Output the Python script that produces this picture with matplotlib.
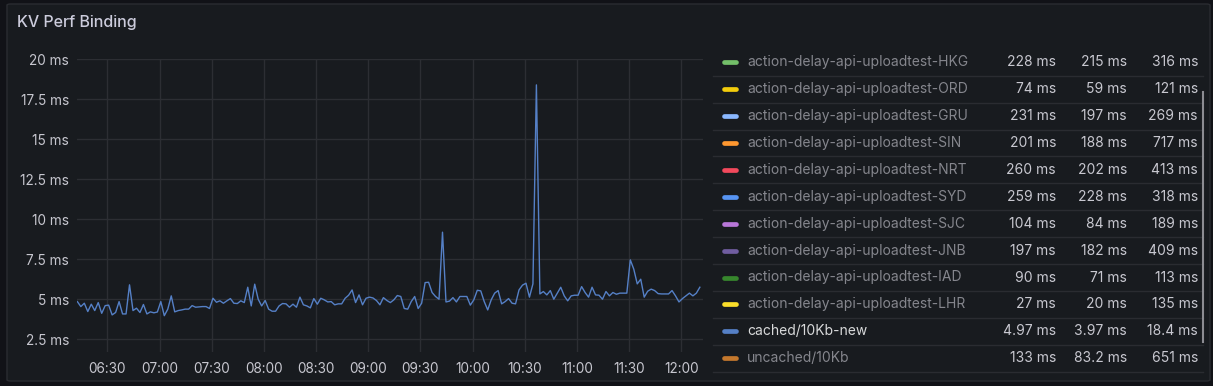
import matplotlib
matplotlib.use("Agg")
from matplotlib import pyplot as plt
from matplotlib.patches import FancyBboxPatch
from matplotlib.lines import Line2D
from matplotlib.ticker import FuncFormatter
import matplotlib.dates as mdates
import numpy as np
import pandas as pd

plt.rcParams['font.family'] = ['Inter', 'DejaVu Sans']

# cached/10Kb-new, one sample every 2 minutes (ms)
start_time = "2023-01-01 06:12:40"
sample_every = "2min"
cached_values = [
    4.85, 4.54, 4.75, 4.23, 4.69, 4.29, 4.79, 4.12, 4.60, 4.63,
    4.02, 4.17, 4.85, 4.08, 4.08, 5.90, 4.29, 4.44, 4.17, 4.67,
    4.08, 4.21, 4.15, 4.20, 4.85, 3.97, 4.38, 5.21, 4.21, 4.29,
    4.33, 4.38, 4.38, 4.60, 4.50, 4.52, 4.54, 4.54, 4.42, 5.06,
    4.81, 4.90, 4.75, 4.90, 5.04, 4.75,
    4.73, 4.90, 4.79, 5.75, 4.58, 5.94, 5.00, 4.58, 4.92, 4.38,
    4.25, 4.25, 4.58, 4.73, 4.71, 4.50, 4.69, 4.50, 5.13, 4.65,
    4.58, 4.46, 5.04, 4.69, 5.06, 4.96, 4.83, 4.85, 4.65, 4.71,
    4.71, 5.06, 5.25, 5.58, 4.79, 5.27, 4.65, 5.06, 5.13, 5.08,
    4.92, 4.65, 5.10, 4.92, 4.79,
    4.96, 5.23, 5.17, 4.42, 4.38, 4.85, 5.17, 4.42, 4.75, 6.04,
    6.06, 5.42, 5.17, 5.00, 9.19, 4.83, 4.88, 5.10, 4.83, 5.17,
    5.17, 5.17, 4.63, 4.96, 5.56, 5.52, 4.85, 4.33, 4.96, 5.38,
    5.54, 4.71, 4.85, 5.04, 4.75, 4.71, 5.58, 5.88, 6.00, 5.13,
    5.96, 18.4, 5.33,
    5.48, 5.27, 5.54, 5.00, 5.38, 5.75, 5.21, 4.90, 5.21, 5.25,
    5.25, 5.79, 5.42, 5.13, 5.75, 5.27, 5.25, 5.00, 5.48, 5.21,
    5.42, 5.31, 5.38, 5.38, 5.38, 7.46, 6.88, 5.96, 6.25, 5.13,
    5.50, 5.63, 5.54, 5.35, 5.33, 5.33, 5.33, 5.54, 5.21, 4.83,
    5.04, 5.21, 5.38, 5.21, 5.38, 5.75,
]

series_names = [
    "action-delay-api-uploadtest-HKG",
    "action-delay-api-uploadtest-ORD",
    "action-delay-api-uploadtest-GRU",
    "action-delay-api-uploadtest-SIN",
    "action-delay-api-uploadtest-NRT",
    "action-delay-api-uploadtest-SYD",
    "action-delay-api-uploadtest-SJC",
    "action-delay-api-uploadtest-JNB",
    "action-delay-api-uploadtest-IAD",
    "action-delay-api-uploadtest-LHR",
    "cached/10Kb-new",
    "uncached/10Kb",
]
mean_vals = ["228 ms", "74 ms", "231 ms", "201 ms", "260 ms", "259 ms",
             "104 ms", "197 ms", "90 ms", "27 ms", "4.97 ms", "133 ms"]
min_vals = ["215 ms", "59 ms", "197 ms", "188 ms", "202 ms", "228 ms",
            "84 ms", "182 ms", "71 ms", "20 ms", "3.97 ms", "83.2 ms"]
max_vals = ["316 ms", "121 ms", "269 ms", "717 ms", "413 ms", "318 ms",
            "189 ms", "409 ms", "113 ms", "135 ms", "18.4 ms", "651 ms"]
shown_series = "cached/10Kb-new"

series_colors = ["#73bf69", "#f2cc0c", "#8ab8ff", "#ff9830", "#f2495c", "#5794f2",
                 "#b877d9", "#705da0", "#37872d", "#fade2a", "#5580c6", "#c4782d"]

W, H = 1213, 386
fig = plt.figure(figsize=(W / 100, H / 100), dpi=100)
fig.patch.set_facecolor("#111217")


def fx(px):
    return px / W


def fy(py):
    return 1 - py / H


panel = FancyBboxPatch((fx(7), fy(381)), fx(1210) - fx(7), fy(4) - fy(381),
                       boxstyle="round,pad=0,rounding_size=0.003",
                       transform=fig.transFigure, facecolor="#181b1f",
                       edgecolor="#2a2c31", lw=1, zorder=-5)
fig.patches.append(panel)

fig.text(fx(17), fy(22), "KV Perf Binding", fontsize=11.5, fontweight="medium",
         color="#ccccdc", va="center", ha="left")

ax = fig.add_axes([fx(77.3), fy(352), fx(703.3) - fx(77.3), fy(59.3) - fy(352)])
ax.set_facecolor("none")
ax.set_zorder(2)

times = pd.date_range(start_time, periods=len(cached_values), freq=sample_every)
ax.plot(times, cached_values, color=series_colors[series_names.index(shown_series)], lw=1.0)

ax.set_xlim(pd.Timestamp("2023-01-01 06:12:38"), pd.Timestamp("2023-01-01 12:12:39"))
ax.set_ylim(1.7, 20)
ax.set_yticks(np.arange(2.5, 20.01, 2.5))
ax.yaxis.set_major_formatter(FuncFormatter(lambda v, p: f"{v:g} ms"))
ax.xaxis.set_major_locator(mdates.MinuteLocator(byminute=[0, 30]))
ax.xaxis.set_major_formatter(mdates.DateFormatter("%H:%M"))

ax.grid(True, color="#2c2e33", lw=1)
ax.set_axisbelow(True)
for s in ax.spines.values():
    s.set_visible(False)
ax.tick_params(axis="both", length=0, colors="#c7c7cf", labelsize=9.8)
ax.tick_params(axis="y", pad=6)
ax.tick_params(axis="x", pad=7)

# legend table
row0, row_h = 62.3, 26.9
for i, name in enumerate(series_names):
    y = row0 + i * row_h
    fig.add_artist(Line2D([fx(724), fx(735.5)], [fy(y), fy(y)], color=series_colors[i],
                          lw=3.4, solid_capstyle="round"))
    name_color = "#d8d9da" if name == shown_series else "#85868d"
    fig.text(fx(747), fy(y), name, fontsize=10, color=name_color, va="center", ha="left")
    for xr, vals in [(1056, mean_vals), (1127, min_vals), (1198, max_vals)]:
        fig.text(fx(xr), fy(y), vals[i], fontsize=10, color="#c8c8d0", va="center", ha="right")
    fig.add_artist(Line2D([fx(713), fx(1203)], [fy(y + 13.4), fy(y + 13.4)],
                          color="#2a2c31", lw=1))

# scrollbar
fig.add_artist(Line2D([fx(1202.5), fx(1202.5)], [fy(92), fy(342)], color="#8c8c92", lw=1.5))

fig.savefig("out.png", dpi=100, facecolor=fig.get_facecolor())
